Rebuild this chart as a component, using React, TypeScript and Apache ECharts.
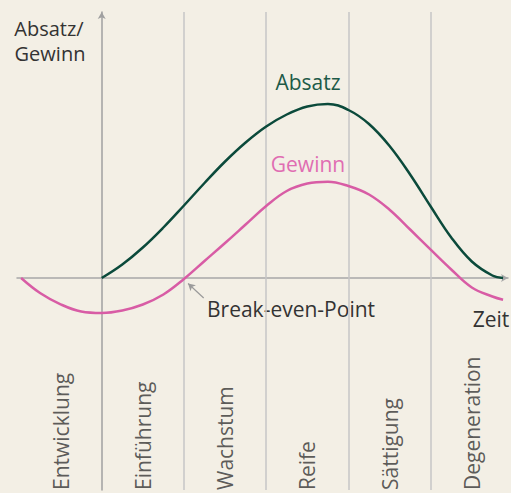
import React, { useEffect, useRef } from "react";
import * as echarts from "echarts";

const phases = ["Entwicklung", "Einführung", "Wachstum", "Reife", "Sättigung", "Degeneration"];
const phaseCenters = [-0.5, 0.5, 1.5, 2.5, 3.5, 4.5];
const phaseBoundaries = [1, 2, 3, 4];

const absatz: [number, number][] = [
  [0, 0], [0.25, 13.5], [0.5, 30.5], [0.75, 50.5], [1.0, 72.5], [1.25, 95], [1.5, 116.5],
  [1.75, 135.5], [2.0, 151.5], [2.25, 163.5], [2.5, 171.5], [2.75, 174], [3.0, 168],
  [3.25, 154], [3.5, 132], [3.75, 103.5], [4.0, 71.5], [4.25, 40.5], [4.5, 16.5],
  [4.75, 2.5], [4.88, 0],
];

const gewinn: [number, number][] = [
  [-0.98, 0], [-0.75, -15], [-0.5, -26.3], [-0.25, -33.5], [0, -35], [0.25, -32.5],
  [0.5, -26.5], [0.75, -16.5], [1.0, -1], [1.25, 17], [1.5, 35], [1.75, 53.5], [2.0, 72],
  [2.25, 87], [2.5, 94.5], [2.75, 96.3], [3.0, 92], [3.25, 83.5], [3.5, 68.3], [3.75, 48.5],
  [4.0, 28.3], [4.25, 8.5], [4.5, -9.5], [4.75, -18.5], [4.88, -21.7],
];

const breakEvenArrow: [number, number][] = [[1.24, -20], [1.05, -5.5]];

const FONT = "'Open Sans', Roboto, sans-serif";
const GREEN = "#0b4a3b";
const PINK = "#d85ca5";
const TEXT = "#333333";

export default function App() {
  const ref = useRef<HTMLDivElement>(null);
  useEffect(() => {
    if (!ref.current) return;
    const chart = echarts.init(ref.current, undefined, { renderer: "svg" });
    chart.setOption({
      animation: false,
      backgroundColor: "#f3efe5",
      grid: { left: 17, right: 3, top: 12, bottom: 3, containLabel: false },
      xAxis: {
        type: "value",
        min: -1.03,
        max: 4.94,
        axisLine: {
          show: true,
          onZero: true,
          symbol: ["none", "arrow"],
          symbolSize: [6, 7],
          lineStyle: { color: "#a8a8a8", width: 1.5 },
        },
        axisTick: { show: false },
        axisLabel: { show: false },
        splitLine: { show: false },
      },
      yAxis: {
        type: "value",
        min: -212,
        max: 266,
        axisLine: {
          show: true,
          onZero: true,
          symbol: ["none", "arrow"],
          symbolSize: [6, 7],
          lineStyle: { color: "#a0a0a0", width: 1.5 },
        },
        axisTick: { show: false },
        axisLabel: { show: false },
        splitLine: { show: false },
      },
      series: [
        {
          type: "line",
          name: "Gewinn",
          data: gewinn,
          smooth: 0.4,
          showSymbol: false,
          lineStyle: { color: PINK, width: 2.5 },
          z: 3,
          markLine: {
            silent: true,
            symbol: "none",
            label: { show: false },
            lineStyle: { color: "#c6c6c6", type: "solid", width: 1.5 },
            data: phaseBoundaries.map((x) => ({ xAxis: x })),
            z: 1,
          },
        },
        {
          type: "line",
          name: "Absatz",
          data: absatz,
          smooth: 0.4,
          showSymbol: false,
          lineStyle: { color: GREEN, width: 2.5 },
          z: 4,
          markLine: {
            silent: true,
            symbol: ["none", "arrow"],
            symbolSize: [6, 7],
            label: { show: false },
            lineStyle: { color: "#9a9a9a", type: "solid", width: 1.2 },
            data: [[{ coord: breakEvenArrow[0] }, { coord: breakEvenArrow[1] }]],
          },
        },
        {
          type: "scatter",
          name: "Phasen",
          data: phaseCenters.map((x, i) => ({ value: [x, -212], name: phases[i] })),
          symbolSize: 0,
          silent: true,
          label: {
            show: true,
            formatter: "{b}",
            position: "top",
            distance: 0,
            rotate: 90,
            align: "left",
            verticalAlign: "middle",
            fontSize: 21,
            fontWeight: 400,
            fontFamily: FONT,
            color: TEXT,
          },
        },
      ],
      graphic: [
        {
          type: "text",
          x: 49,
          y: 28,
          style: { text: "Absatz/", textAlign: "center", textVerticalAlign: "middle", font: `400 20px ${FONT}`, fill: TEXT },
        },
        {
          type: "text",
          x: 50,
          y: 53,
          style: { text: "Gewinn", textAlign: "center", textVerticalAlign: "middle", font: `400 20px ${FONT}`, fill: TEXT },
        },
        {
          type: "text",
          x: 308,
          y: 82,
          style: { text: "Absatz", textAlign: "center", textVerticalAlign: "middle", font: `400 21px ${FONT}`, fill: "#1d5a48" },
        },
        {
          type: "text",
          x: 308,
          y: 164,
          style: { text: "Gewinn", textAlign: "center", textVerticalAlign: "middle", font: `400 21px ${FONT}`, fill: "#e06db2" },
        },
        {
          type: "text",
          x: 207,
          y: 309,
          style: { text: "Break-even-Point", textAlign: "left", textVerticalAlign: "middle", font: `400 21px ${FONT}`, fill: TEXT },
        },
        {
          type: "text",
          x: 491,
          y: 319,
          style: { text: "Zeit", textAlign: "center", textVerticalAlign: "middle", font: `400 21px ${FONT}`, fill: TEXT },
        },
      ],
    });
    return () => chart.dispose();
  }, []);
  return (
    <div
      ref={ref}
      style={{ position: "fixed", left: 0, top: 0, width: 511, height: 493 }}
    />
  );
}
